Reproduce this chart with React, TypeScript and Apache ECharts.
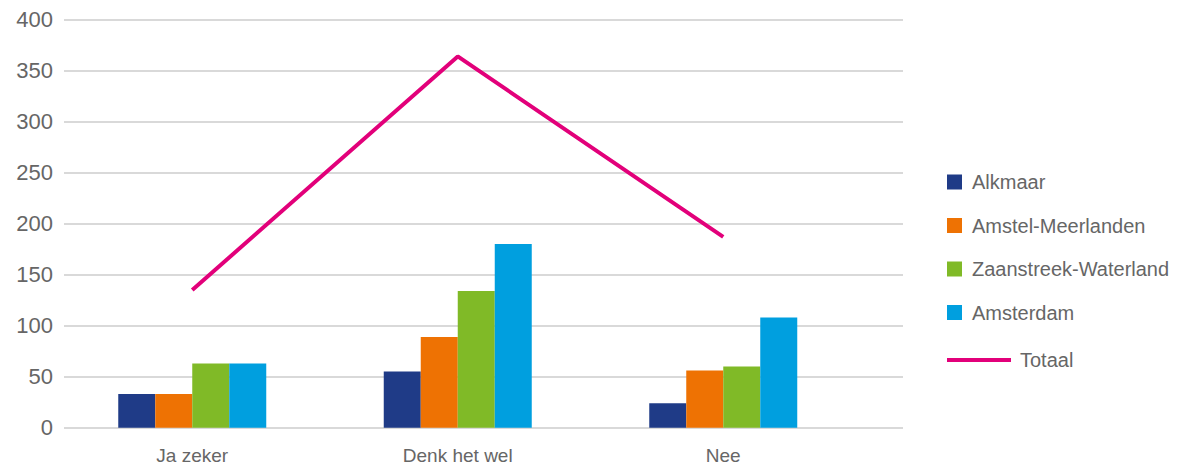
import React, { useEffect, useRef } from "react";
import * as echarts from "echarts";

const categories = ["Ja zeker", "Denk het wel", "Nee"];
const alkmaar = [33, 55, 24];
const amstelMeerlanden = [33, 89, 56];
const zaanstreekWaterland = [63, 134, 60];
const amsterdam = [63, 180, 108];
const totaal = [135, 364, 187];

const FONT = "'Liberation Sans', Arial, sans-serif";
const TEXT = "#666666";

export default function App() {
  const ref = useRef<HTMLDivElement>(null);
  useEffect(() => {
    if (!ref.current) return;
    const chart = echarts.init(ref.current, undefined, { renderer: "svg" });
    const barCommon = {
      type: "bar" as const,
      xAxisIndex: 1,
      yAxisIndex: 1,
      barWidth: 37,
      barGap: "0%",
    };
    chart.setOption({
      animation: false,
      backgroundColor: "#ffffff",
      textStyle: { fontFamily: FONT },
      grid: [
        { left: 64, right: 286, top: 19.7, bottom: 46.3 },
        { left: 59.5, width: 796.5, top: 19.7, bottom: 46.3 },
      ],
      xAxis: [
        {
          type: "category",
          gridIndex: 0,
          data: [""],
          axisLine: { show: false },
          axisTick: { show: false },
          axisLabel: { show: false },
        },
        {
          type: "category",
          gridIndex: 1,
          data: categories,
          axisLine: { show: false },
          axisTick: { show: false },
          axisLabel: { color: TEXT, fontSize: 19, margin: 18, fontFamily: FONT },
        },
      ],
      yAxis: [
        {
          type: "value",
          gridIndex: 0,
          min: 0,
          max: 400,
          interval: 50,
          axisLine: { show: false },
          axisTick: { show: false },
          axisLabel: { color: TEXT, fontSize: 22, margin: 11, fontFamily: FONT },
          splitLine: { lineStyle: { color: "#d9d9d9", width: 2 } },
        },
        {
          type: "value",
          gridIndex: 1,
          min: 0,
          max: 400,
          show: false,
          splitLine: { show: false },
        },
      ],
      legend: [
        {
          orient: "vertical",
          left: 942,
          top: 167,
          itemWidth: 15,
          itemHeight: 15,
          itemGap: 23.5,
          icon: "rect",
          data: ["Alkmaar", "Amstel-Meerlanden", "Zaanstreek-Waterland", "Amsterdam"],
          textStyle: { color: TEXT, fontSize: 20, fontFamily: FONT, padding: [0, 0, 0, 5] },
        },
        {
          orient: "vertical",
          left: 942,
          top: 345,
          itemWidth: 64,
          itemHeight: 4,
          icon: "rect",
          data: ["Totaal"],
          textStyle: { color: TEXT, fontSize: 20, fontFamily: FONT, padding: [0, 0, 0, 4] },
        },
      ],
      series: [
        { ...barCommon, name: "Alkmaar", data: alkmaar, itemStyle: { color: "#1f3b87" } },
        { ...barCommon, name: "Amstel-Meerlanden", data: amstelMeerlanden, itemStyle: { color: "#ee7203" } },
        { ...barCommon, name: "Zaanstreek-Waterland", data: zaanstreekWaterland, itemStyle: { color: "#80ba27" } },
        { ...barCommon, name: "Amsterdam", data: amsterdam, itemStyle: { color: "#009fdf" } },
        {
          type: "line",
          name: "Totaal",
          xAxisIndex: 1,
          yAxisIndex: 1,
          data: totaal,
          showSymbol: false,
          symbol: "none",
          itemStyle: { color: "#e2007a" },
          lineStyle: { color: "#e2007a", width: 4 },
        },
      ],
    });
    return () => chart.dispose();
  }, []);
  return (
    <div
      ref={ref}
      style={{ position: "absolute", left: 0, top: 0, width: 1189, height: 474 }}
    />
  );
}
